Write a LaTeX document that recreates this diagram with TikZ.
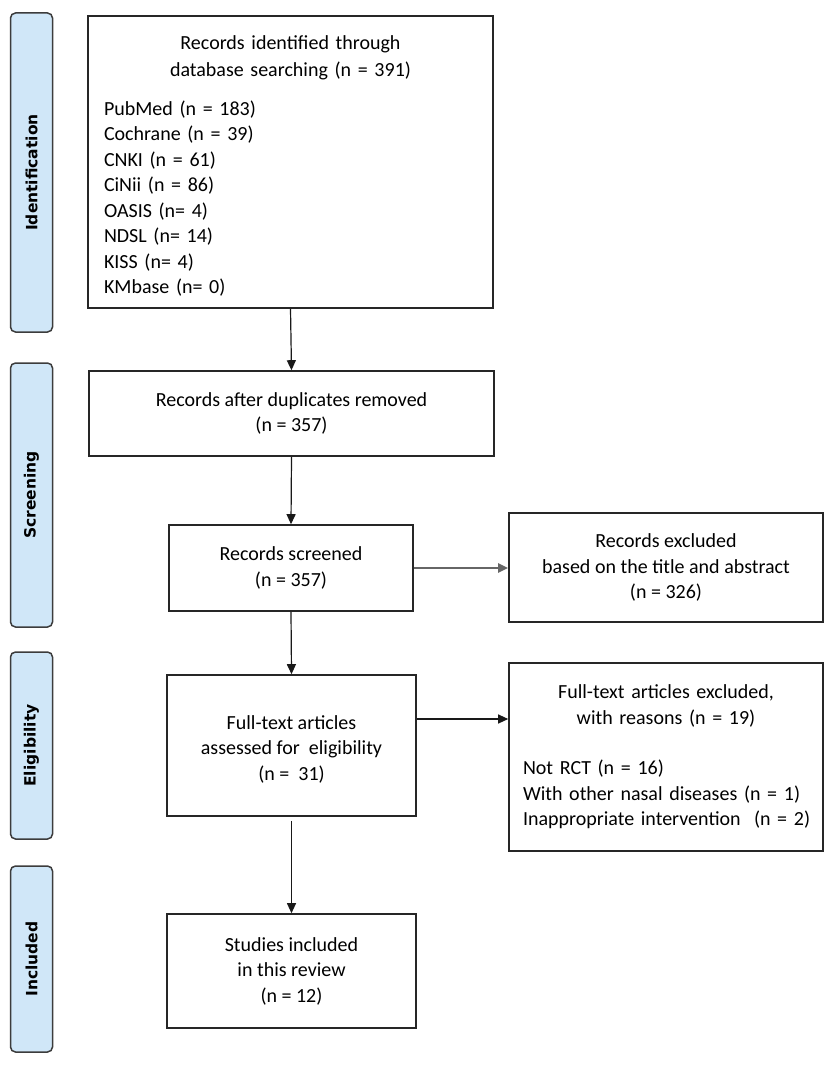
\documentclass[tikz,border=0pt]{standalone}
\usepackage{fontspec}
\setmainfont{Carlito}
\newfontfamily\barfont{DejaVu Sans}
\usetikzlibrary{arrows.meta}
\definecolor{barblue}{RGB}{208,231,248}
\definecolor{barline}{RGB}{60,60,60}
\tikzset{
  box/.style={draw=black!85, line width=1.6pt, fill=white, align=center,
    font=\fontsize{20}{25.5}\selectfont, inner sep=4pt},
  phase/.style={draw=barline, line width=1.5pt, fill=barblue, rounded corners=5pt,
    rotate=90, minimum height=42, inner sep=0pt,
    font=\barfont\bfseries\fontsize{15.5}{17}\selectfont},
  flow/.style={-{Triangle[length=10pt,width=9pt]}, line width=1.2pt, black!90}
}
\begin{document}
\begin{tikzpicture}[x=1pt,y=-1pt]
			\useasboundingbox[fill=white] (0,0) rectangle (827,1065);

			% phase bars
			\node[phase, minimum width=319] (idbar) at (31.5,172.5) {Identification};
			\node[phase, minimum width=264] (scbar) at (31.5,495) {Screening};
			\node[phase, minimum width=187] (elbar) at (31.5,745.5) {Eligibility};
			\node[phase, minimum width=186] (inbar) at (31.5,959) {Included};

			% main column
			\node[box, minimum width=405, minimum height=292, text width=373, inner xsep=16pt, align=left] (ident) at (290.5,162)
				{{\centering\fontsize{20}{27.4}\selectfont\rule{0pt}{22pt}Records identified through\\database searching (n = 391)\par}\vspace{13pt}%
				PubMed (n = 183)\\Cochrane (n = 39)\\CNKI (n = 61)\\CiNii (n = 86)\\OASIS (n= 4)\\NDSL (n= 14)\\KISS (n= 4)\\KMbase (n= 0)};
			\node[box, minimum width=405, minimum height=85] (dupl) at (291.5,413.5)
				{Records after duplicates removed\\(n = 357)};
			\node[box, minimum width=244, minimum height=86] (screen) at (291,568)
				{Records screened\\(n = 357)};
			\node[box, minimum width=249, minimum height=141] (full) at (291.5,745.5)
				{\rule{0pt}{21pt}Full-text articles\\assessed for \ eligibility\\(n = \ 31)};
			\node[box, minimum width=249, minimum height=114] (incl) at (291.5,971)
				{Studies included\\in this review\\(n = 12)};

			% exclusions
			\node[box, minimum width=314, minimum height=188, text width=296, inner xsep=9pt, align=left] (excl2) at (666,757)
				{{\centering Full-text articles excluded,\\with reasons (n = 19)\par}\vspace{25pt}%
				\hspace*{5pt}Not RCT (n = 16)\\\hspace*{5pt}With other nasal diseases (n = 1)\\\hspace*{5pt}Inappropriate intervention \ (n = 2)\par\vspace{-10pt}};
			\node[box, minimum width=314, minimum height=109] (excl1) at (666,567.5)
				{Records excluded\\based on the title and abstract\\(n = 326)};

			% arrows
			\draw[flow] (ident.south) -- (dupl.north);
			\draw[flow] (dupl.south) -- (screen.north);
			\draw[flow] (screen.south) -- (full.north);
			\draw[flow, shorten <=4pt, line width=1pt] (full.south) -- (incl.north);
			\draw[flow, line width=2.4pt, black!60] (screen.east) -- (screen.east -| excl1.west);
			\draw[flow] (full.east |- 0,719) -- (excl2.west |- 0,719);
		\end{tikzpicture}
\end{document}
